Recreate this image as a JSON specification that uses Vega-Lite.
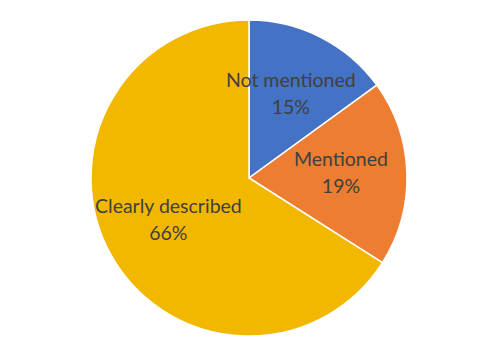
{
  "$schema": "https://vega.github.io/schema/vega-lite/v6.json",
  "autosize": {"type": "fit", "contains": "padding"},
  "width": 498,
  "height": 356,
  "padding": 0,
  "background": "white",
  "config": {"view": {"stroke": null}},
  "data": {
    "values": [
      {"category": "Not mentioned", "value": 15, "rank": 1, "label": "Not mentioned\n15%"},
      {"category": "Mentioned", "value": 19, "rank": 2, "label": "Mentioned\n19%"},
      {"category": "Clearly described", "value": 66, "rank": 3, "label": "Clearly described\n66%"}
    ]
  },
  "encoding": {
    "theta": {"field": "value", "type": "quantitative", "stack": true},
    "order": {"field": "rank", "type": "quantitative"},
    "color": {
      "field": "category",
      "type": "nominal",
      "scale": {"domain": ["Not mentioned", "Mentioned", "Clearly described"], "range": ["#4472C4", "#ED7D31", "#F2B800"]},
      "legend": null
    }
  },
  "layer": [
    {"mark": {"type": "arc", "outerRadius": 158, "stroke": "white", "strokeWidth": 1.5}},
    {
      "mark": {"type": "text", "radius": 92, "dy": -15, "font": "Lato", "fontSize": 19.5, "color": "#404040", "lineBreak": "\n", "lineHeight": 27, "align": "center", "baseline": "middle"},
      "encoding": {"text": {"field": "label"}, "color": {"value": "#404040"}}
    }
  ]
}
